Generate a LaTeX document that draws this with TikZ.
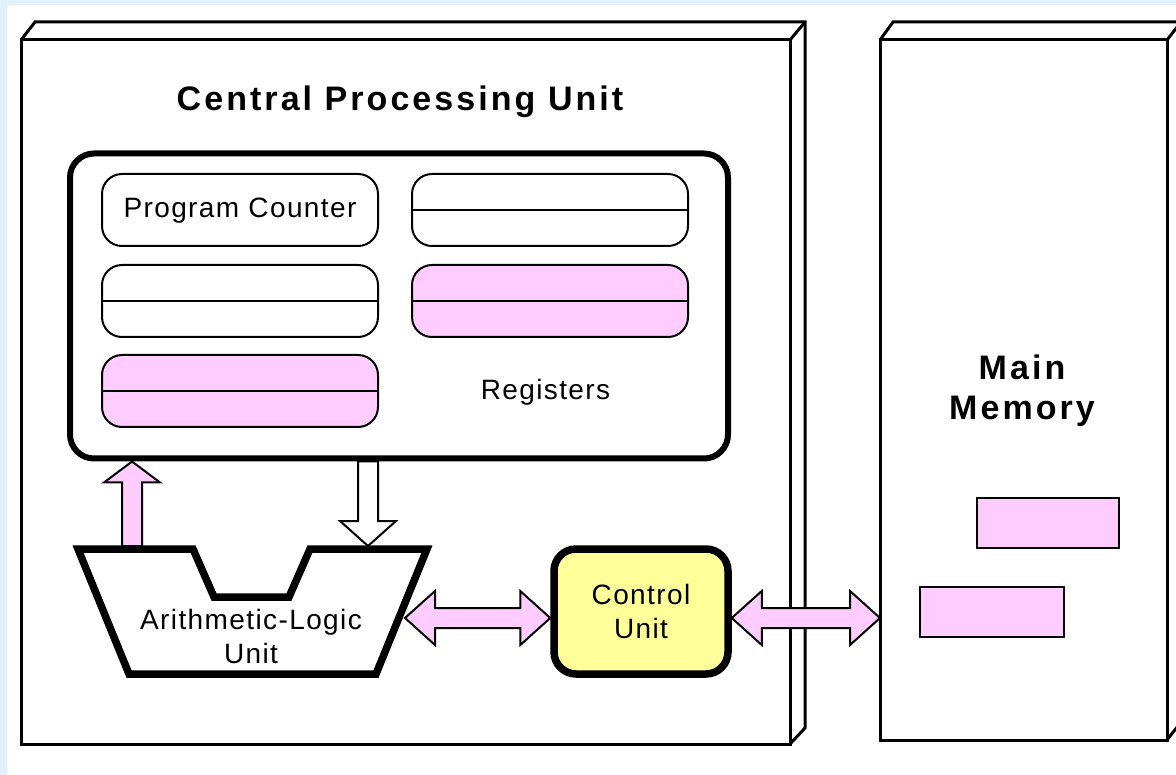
\documentclass[tikz,border=0pt]{standalone}
\usepackage{fontspec}
\setmainfont{Liberation Sans}[LetterSpace=5]
\newfontfamily\headfont{Liberation Sans}[LetterSpace=9]
\usetikzlibrary{positioning,calc}

\definecolor{skyedge}{RGB}{226,241,254}
\definecolor{regpink}{RGB}{255,204,255}
\definecolor{cuyellow}{RGB}{255,255,153}

% fat two-headed arrow between two points on one level
\newcommand{\fatboth}[2]{%
  \draw[fatarrow] (#1) -- ++(30,-27) -- ++(0,17) -- ($(#2)+(-30,-10)$) -- ++(0,-17)
    -- (#2) -- ++(-30,27) -- ++(0,-17) -- ($(#1)+(30,10)$) -- ++(0,17) -- cycle;}

\begin{document}
\begin{tikzpicture}[x=1pt, y=-1pt, line join=miter, node distance=19pt,
  every node/.style={font=\fontsize{28}{34}\selectfont}]
\tikzstyle{box3d}=[draw, line width=3pt, outer sep=0pt]
\tikzstyle{regbox}=[draw, line width=2pt, rounded corners=20pt, minimum width=276pt, minimum height=72pt, inner sep=0pt, outer sep=0pt]
\tikzstyle{memcell}=[draw, line width=2pt, fill=regpink, minimum width=142pt, minimum height=50pt, inner sep=0pt]
\tikzstyle{fatarrow}=[draw, line width=2pt, fill=regpink]
\tikzstyle{heading}=[font=\headfont\bfseries\fontsize{34}{40}\selectfont, align=center]

\useasboundingbox (0,0) rectangle (1176,775);
\fill[skyedge] (0,0) rectangle (1176,775);
\fill[white] (7,5) rectangle (1176,775);

% cpu and memory blocks
\node[box3d, minimum width=769pt, minimum height=704pt] (cpu) at (405.5,392) {};
\draw[line width=3pt] (cpu.north west) -- ++(14,-18) -- ($(cpu.north east)+(15,-18)$)
  -- ($(cpu.south east)+(15,-16)$) -- (cpu.south east);
\draw[line width=3pt] (cpu.north east) -- ++(15,-18);
\node[box3d, minimum width=287pt, minimum height=700pt] (mem) at (1023.5,390) {};
\draw[line width=3pt] (mem.north west) -- ++(13,-18) -- ($(mem.north east)+(14,-18)$)
  -- ($(mem.south east)+(14,-18)$) -- (mem.south east);
\draw[line width=3pt] (mem.north east) -- ++(14,-18);

\node[heading, anchor=base] (cputitle) at (400,111) {Central Processing Unit};
\node[heading] (memtitle) at (1022,391) {Main\\Memory};

% registers
\node[draw, line width=6pt, rounded corners=24pt, minimum width=658pt, minimum height=305pt] (regs) at (399,306) {};
\node[regbox, text height=20pt, text depth=4pt] (pc) at (240,210) {Program Counter};
\node[regbox, right=34pt of pc] (r1) {};
\node[regbox, below=of pc] (r2) {};
\node[regbox, fill=regpink, below=of r1] (r3) {};
\node[regbox, fill=regpink, below=18pt of r2] (r4) {};
\foreach \r in {r1,r2,r3,r4}
  \draw[line width=2pt] (\r.west) -- (\r.east);
\node (reglabel) at (545.5,392) {Registers};

% alu
\draw[line width=7.5pt, fill=white] (78,549) -- (193,549) -- (214,597) -- (289,597) -- (310,549)
  -- (427,549) -- (376,674) -- (129,674) -- cycle;
\node[align=center] (alu) at (251,636) {Arithmetic-Logic\\Unit};

% control unit
\node[draw, line width=7.5pt, rounded corners=22pt, fill=cuyellow, minimum width=174pt,
  minimum height=125pt, align=center] (cu) at (641,611.5) {Control\\Unit};

% fat arrows
\coordinate (alu east) at (405,618);
\coordinate (cu left) at (cu.west |- alu east);
\coordinate (cu right) at (cu.east |- alu east);
\coordinate (mem left) at (mem.west |- alu east);
\fatboth{alu east}{cu left}
\fatboth{cu right}{mem left}

\coordinate (up foot) at (132,546);
\coordinate (up tip) at (up foot |- regs.south);
\draw[fatarrow] (up tip) -- ++(28,21) -- ++(-18,0) -- ($(up foot)+(10,0)$) -- ($(up foot)+(-10,0)$)
  -- ($(up tip)+(-10,21)$) -- ++(-18,0) -- cycle;
\coordinate (dn tip) at (368,546);
\coordinate (dn foot) at (dn tip |- regs.south);
\draw[fatarrow, fill=white] (dn tip) -- ++(28,-25) -- ++(-18,0) -- ($(dn foot)+(10,0)$) -- ($(dn foot)+(-10,0)$)
  -- ($(dn tip)+(-10,-25)$) -- ++(-18,0) -- cycle;

% words in memory
\node[memcell] (word1) at (1048,523) {};
\node[memcell, minimum width=144pt] (word2) at (992,612) {};
\end{tikzpicture}
\end{document}
